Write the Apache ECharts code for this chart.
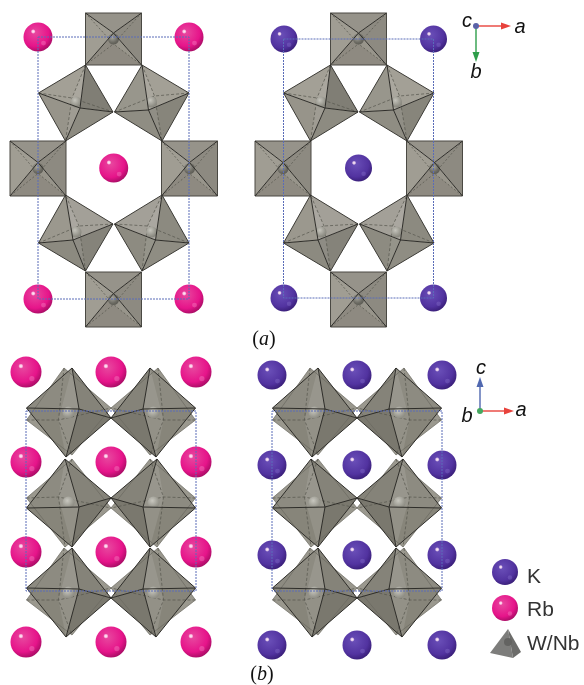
<!DOCTYPE html>
<html>
<head>
<meta charset="utf-8">
<style>
  html, body { margin: 0; padding: 0; background: #fff; }
  #chart { width: 584px; height: 685px; filter: blur(0.35px); }
</style>
<script src="https://cdn.jsdelivr.net/npm/echarts@6/dist/echarts.min.js"></script>
</head>
<body>
<div id="chart"></div>
<script>
// atoms: x, y, radius
var rbTop = [[38,37,14.5],[189,37,14.5],[113.7,168,14.5],[38,299,14.5],[189,299,14.5]];
var kTop = [[284,39,13.5],[433.5,39,13.5],[358.5,168,13.5],[284,298,13.5],[433.5,298,13.5]];
var rbSide = [
  [26,372,15.5],[111,372,15.5],[196,372,15.5],
  [26,462,15.5],[111,462,15.5],[196,462,15.5],
  [26,552,15.5],[111,552,15.5],[196,552,15.5],
  [26,642,15.5],[111,642,15.5],[196,642,15.5]
];
var kSide = [
  [272,375,14.5],[357,375,14.5],[442,375,14.5],
  [272,465,14.5],[357,465,14.5],[442,465,14.5],
  [272,555,14.5],[357,555,14.5],[442,555,14.5],
  [272,645,14.5],[357,645,14.5],[442,645,14.5]
];
var legendK = [[505,572,13]];
var legendRb = [[505,608,13]];

// unit cells: x0, y0, x1, y1
var cells = [[38,37,189,299],[283.5,39,433.5,298],[26,411,196,591],[272,411,442,591]];

// top view (a): square octahedra x, y, half height, and tilted ones x, y, apex dx, apex dy, mirror x, mirror y
var squaresA = [[113.5,39,26],[38,168.5,27.5],[189.5,168.5,27.5],[113.5,299.5,27.5]];
var tiltedA = [[76,103,4,5,1,1],[151.5,103,-3,7,-1,1],[76,233,-3,7,1,-1],[151.5,233,4,7,-1,-1]];
var shiftA = [0,245];
// face shades of each tilted octahedron: t-l, t-r, b-r, b-l
var tiltedShades = [
  ['#a3a096','#807e75','#8d8b81','#97948a'],
  ['#a3a096','#98968c','#8f8d83','#87857b'],
  ['#8c8a80','#85837a','#a3a098','#9b988e'],
  ['#8f8d83','#8d8b81','#a3a098','#8c8a80']
];

// side view (b): x, y, shape, mirror x
var octaB = [
  [68.5,412,0,1],[153.5,412,0,-1],
  [68.5,502,1,1],[153.5,502,1,-1],
  [68.5,592,0,1],[153.5,592,0,-1]
];
var shiftB = [0,246];

// axis triads: x0, y0, x1, y1, colour
var arrows = [
  [476,26,511,26,'#e8423c'],[476,26,476,62,'#2e9e4a'],
  [480,411,514,411,'#e8423c'],[480,411,480,377,'#5068b0']
];
var origins = [[476,26,'#5a62a8'],[480,411,'#45a860']];

// text: string, x, y, kind
var labels = [
  ['a',520,27,'axis'],['b',476,72,'axis'],['c',467,21,'axis'],
  ['c',481,368,'axis'],['a',521,410,'axis'],['b',467,416,'axis'],
  ['K',527,577,'legend'],['Rb',527,610,'legend'],['W/Nb',527,644,'legend']
];
var captions = [['a',264,340],['b',262,675]];

var tetra = [[508,629],[490,653],[513,658],[521,652]];

var EDGE = '#2e2d29';
var BACK = '#55544c';

function poly(api, pts, fill) {
  return { type: 'polygon', shape: { points: pts.map(function (p) { return api.coord(p); }) }, style: { fill: fill } };
}
function path(api, pts, stroke, width, dash) {
  return {
    type: 'polyline',
    shape: { points: pts.map(function (p) { return api.coord(p); }) },
    style: { stroke: stroke, lineWidth: width, fill: null, lineDash: dash || null }
  };
}
function ball(api, x, y, r, color) {
  var c = api.coord([x, y]);
  return {
    type: 'circle', shape: { cx: c[0], cy: c[1], r: r },
    style: { fill: { type: 'radial', x: 0.4, y: 0.35, r: 0.76, colorStops: [
      { offset: 0, color: color[0] }, { offset: 0.62, color: color[1] }, { offset: 1, color: color[2] }
    ] } }
  };
}

function renderSquare(params, api) {
  var x = api.value(0), y = api.value(1), hh = api.value(2), hw = 28;
  var tl = [x - hw, y - hh], tr = [x + hw, y - hh], br = [x + hw, y + hh], bl = [x - hw, y + hh];
  var front = [x, y - 6], back = [x, y + 5];
  return { type: 'group', children: [
    poly(api, [tl, tr, front], '#96938a'),
    poly(api, [tl, bl, front], '#a09d93'),
    poly(api, [tr, br, front], '#8d8a81'),
    poly(api, [bl, br, front], '#98958b'),
    poly(api, [bl, br, back, front], 'rgba(70,68,60,0.12)'),
    path(api, [tl, back, br], BACK, 0.7, [2, 2]),
    path(api, [tr, back, bl], BACK, 0.7, [2, 2]),
    ball(api, x, y, 5.5, ['#a5a49c', '#6c6b63', '#55544d']),
    path(api, [tl, tr, br, bl, tl], '#4a4943', 1),
    path(api, [tl, front, br], EDGE, 1),
    path(api, [tr, front, bl], EDGE, 1)
  ] };
}

function renderTilted(params, api) {
  var x = api.value(0), y = api.value(1), ax = api.value(2), ay = api.value(3), sx = api.value(4), sy = api.value(5);
  var shade = tiltedShades[params.dataIndex % 4];
  var t = [x + 9.5 * sx, y - 38 * sy], l = [x - 37.5 * sx, y - 10 * sy];
  var b = [x - 10.5 * sx, y + 38 * sy], r = [x + 37 * sx, y + 9 * sy];
  var f = [x + ax, y + ay], k = [x - ax, y - ay];
  return { type: 'group', children: [
    poly(api, [t, l, f], shade[0]),
    poly(api, [t, r, f], shade[1]),
    poly(api, [b, r, f], shade[2]),
    poly(api, [b, l, f], shade[3]),
    poly(api, [t, k, b, f], 'rgba(255,255,255,0.08)'),
    path(api, [l, k, r], BACK, 0.7, [3, 2]),
    path(api, [t, k, b], BACK, 0.7, [3, 2]),
    ball(api, x, y - 1, 5.5, ['#c4c3bb', '#96958c', '#7d7c74']),
    path(api, [t, l, b, r, t], '#3c3b36', 1),
    path(api, [t, f, b], EDGE, 1),
    path(api, [l, f, r], EDGE, 1)
  ] };
}

// vertex offsets for the two stacked side-view orientations
function sideShape(kind) {
  if (kind === 0) {
    return { a: [3.5,-44], l: [-42,-4], f: [10.5,-3], r: [42.5,6], b: [-2.5,45],
             ka: [-4.5,-44], kl: [-42,8], k: [-10,8], kr: [42.5,-4], kb: [3.5,43] };
  }
  return { a: [-3.5,-43], l: [-42,6], f: [10.5,5], r: [42.5,-4], b: [3.5,45],
           ka: [3.5,-43], kl: [-42,-4], k: [-10,-5], kr: [42.5,6], kb: [-3.5,45] };
}

function renderSide(params, api) {
  var x = api.value(0), y = api.value(1), s = sideShape(api.value(2)), sx = api.value(3);
  function at(o) { return [x + o[0] * sx, y + o[1]]; }
  var a = at(s.a), l = at(s.l), f = at(s.f), r = at(s.r), b = at(s.b);
  var ka = at(s.ka), kl = at(s.kl), k = at(s.k), kr = at(s.kr), kb = at(s.kb);
  return { type: 'group', children: [
    poly(api, [ka, kl, kb, kr], '#9a988e'),
    poly(api, [a, l, f], '#8d8b81'),
    poly(api, [a, r, f], '#858379'),
    poly(api, [b, l, f], '#87857a'),
    poly(api, [b, r, f], '#7a786e'),
    poly(api, [a, k, b, f], 'rgba(255,255,255,0.1)'),
    path(api, [ka, k, kb], BACK, 0.7, [3, 2]),
    path(api, [kl, k, kr], BACK, 0.7, [3, 2]),
    ball(api, x, y + 0.5, 6, ['#c8c7bf', '#9c9b92', '#85847b']),
    path(api, [ka, kl, kb, kr, ka], '#6a6960', 0.7),
    path(api, [a, l, b, r, a], EDGE, 1),
    path(api, [a, f, b], EDGE, 1),
    path(api, [l, f, r], EDGE, 1)
  ] };
}

function atomRenderer(shades, spot) {
  return function (params, api) {
    var x = api.value(0), y = api.value(1), r = api.value(2);
    var hi = api.coord([x - 0.33 * r, y - 0.38 * r]);
    var lo = api.coord([x + 0.38 * r, y + 0.42 * r]);
    return { type: 'group', children: [
      ball(api, x, y, r, shades),
      { type: 'circle', shape: { cx: lo[0], cy: lo[1], r: r * 0.17 }, style: { fill: spot, opacity: 0.35 } },
      { type: 'circle', shape: { cx: hi[0], cy: hi[1], r: r * 0.17 }, style: { fill: { type: 'radial', x: 0.5, y: 0.5, r: 0.5, colorStops: [
        { offset: 0, color: 'rgba(255,240,248,1)' }, { offset: 0.5, color: 'rgba(255,230,245,0.8)' }, { offset: 1, color: 'rgba(255,230,245,0)' }
      ] } } }
    ] };
  };
}

function renderCell(params, api) {
  var x0 = api.value(0), y0 = api.value(1), x1 = api.value(2), y1 = api.value(3);
  return path(api, [[x0, y0], [x1, y0], [x1, y1], [x0, y1], [x0, y0]], '#5a6cb8', 1, [2, 1]);
}

function renderArrow(params, api) {
  var x0 = api.value(0), y0 = api.value(1), x1 = api.value(2), y1 = api.value(3);
  var color = arrows[params.dataIndex][4];
  var len = Math.sqrt((x1 - x0) * (x1 - x0) + (y1 - y0) * (y1 - y0));
  var ux = (x1 - x0) / len, uy = (y1 - y0) / len;
  var bx = x1 - ux * 10, by = y1 - uy * 10;
  return { type: 'group', children: [
    path(api, [[x0, y0], [bx, by]], color, 1.4),
    poly(api, [[x1, y1], [bx - uy * 3.5, by + ux * 3.5], [bx + uy * 3.5, by - ux * 3.5]], color)
  ] };
}

function renderOrigin(params, api) {
  var c = api.coord([api.value(0), api.value(1)]);
  return { type: 'circle', shape: { cx: c[0], cy: c[1], r: 3 }, style: { fill: origins[params.dataIndex][2] } };
}

function renderLabel(params, api) {
  var item = labels[params.dataIndex];
  var c = api.coord([item[1], item[2]]);
  var isAxis = item[3] === 'axis';
  return {
    type: 'text', x: c[0], y: c[1],
    style: {
      text: item[0], fill: isAxis ? '#111' : '#333',
      font: (isAxis ? 'italic 20px' : '21px') + ' "Liberation Sans", Arial, sans-serif',
      align: isAxis ? 'center' : 'left', verticalAlign: 'middle'
    }
  };
}

function renderCaption(params, api) {
  var item = captions[params.dataIndex];
  var c = api.coord([item[1], item[2]]);
  return {
    type: 'text', x: c[0], y: c[1],
    style: {
      text: '{p|(}{i|' + item[0] + '}{p|)}', align: 'center', verticalAlign: 'middle',
      rich: {
        p: { fontFamily: 'Liberation Serif', fontSize: 20, fill: '#111', color: '#111' },
        i: { fontFamily: 'Liberation Serif', fontStyle: 'italic', fontSize: 20, fill: '#111', color: '#111' }
      }
    }
  };
}

function renderTetra(params, api) {
  var c = api.coord([508, 642]);
  return { type: 'group', children: [
    poly(api, [tetra[0], tetra[1], tetra[2]], '#7d7d7b'),
    poly(api, [tetra[0], tetra[2], tetra[3]], '#6c6c6a'),
    { type: 'circle', shape: { cx: c[0], cy: c[1], r: 4 }, style: { fill: '#636361' } }
  ] };
}

function shifted(rows, shifts) {
  var out = [];
  shifts.forEach(function (dx) {
    rows.forEach(function (row) { out.push([row[0] + dx].concat(row.slice(1))); });
  });
  return out;
}

var rbShades = ['#e8489f', '#e6148a', '#8f0a56'];
var kShades = ['#6a4fb8', '#5233a0', '#2f1668'];

function layer(name, data, renderItem, z) {
  return { name: name, type: 'custom', coordinateSystem: 'cartesian2d', data: data, renderItem: renderItem, z: z, silent: true, clip: false };
}

var chart = echarts.init(document.getElementById('chart'), null, { renderer: 'canvas' });
chart.setOption({
  animation: false,
  backgroundColor: '#fff',
  grid: { left: 0, right: 0, top: 0, bottom: 0 },
  xAxis: { type: 'value', min: 0, max: 584, show: false },
  yAxis: { type: 'value', min: 0, max: 685, inverse: true, show: false },
  series: [
    layer('squares', shifted(squaresA, shiftA), renderSquare, 2),
    layer('tilted', shifted(tiltedA, shiftA), renderTilted, 2),
    layer('side', shifted(octaB, shiftB), renderSide, 2),
    layer('Rb', rbTop.concat(rbSide, legendRb), atomRenderer(rbShades, '#f59ccf'), 3),
    layer('K', kTop.concat(kSide, legendK), atomRenderer(kShades, '#8f7ad0'), 3),
    layer('cells', cells, renderCell, 4),
    layer('arrows', arrows.map(function (a) { return a.slice(0, 4); }), renderArrow, 5),
    layer('origins', origins.map(function (o) { return o.slice(0, 2); }), renderOrigin, 6),
    layer('labels', labels.map(function (l) { return [l[1], l[2]]; }), renderLabel, 7),
    layer('captions', captions.map(function (l) { return [l[1], l[2]]; }), renderCaption, 7),
    layer('W/Nb', [tetra[0]], renderTetra, 3)
  ]
});
</script>
</body>
</html>
